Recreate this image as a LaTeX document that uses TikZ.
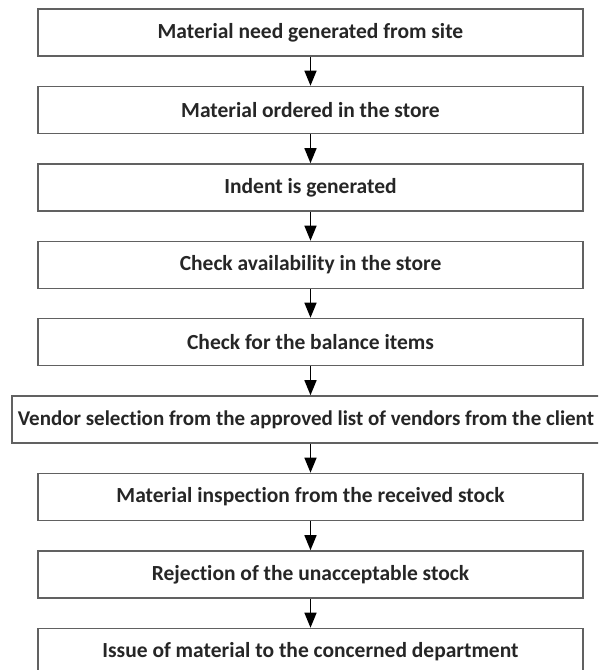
\documentclass[tikz,border=0pt]{standalone}
\usepackage{fontspec}
\setmainfont{Carlito}[Ligatures=NoCommon]
\usetikzlibrary{arrows.meta}
\begin{document}
\begin{tikzpicture}[x=1pt,y=1pt,
  boxtext/.style={text=black!85, inner sep=0pt,
    font=\fontsize{21.5}{24}\selectfont\bfseries},
  stepbox/.style={boxtext, draw=black!62, line width=1.6pt, fill=white,
    minimum width=545pt, minimum height=47pt},
  widebox/.style={stepbox, minimum width=597pt},
  flow/.style={draw=black, line width=1.4pt, -{Triangle[width=12pt,length=15pt]}}]
\useasboundingbox (0,0) rectangle (598,-670);
\clip (0,0) rectangle (598,-670);
\fill[white] (0,0) rectangle (598,-670);
\node[stepbox] (b1) at (310.5,-32.5) {Material need generated from site};
\node[stepbox] (b2) at (310.5,-110) {Material ordered in the store};
\node[stepbox] (b3) at (310.5,-187.5) {Indent is generated};
\node[stepbox] (b4) at (310.5,-265) {Check availability in the store};
\node[stepbox] (b5) at (310.5,-342) {Check for the balance items};
% the wide box runs past the right edge; its label is set a little smaller
\node[widebox] (b6) at (310.5,-419.5) {};
\node[boxtext, font=\fontsize{21}{24}\selectfont\bfseries] (b6label) at (306,-419.5)
  {Vendor selection from the approved list of vendors from the client};
\node[stepbox] (b7) at (310.5,-497) {Material inspection from the received stock};
\node[stepbox] (b8) at (310.5,-574.5) {Rejection of the unacceptable stock};
\node[stepbox] (b9) at (310.5,-652) {Issue of material to the concerned department};
\foreach \a/\b in {b1/b2,b2/b3,b3/b4,b4/b5,b5/b6,b6/b7,b7/b8,b8/b9}
  \draw[flow] (\a.south) -- (\b.north);
\end{tikzpicture}
\end{document}
